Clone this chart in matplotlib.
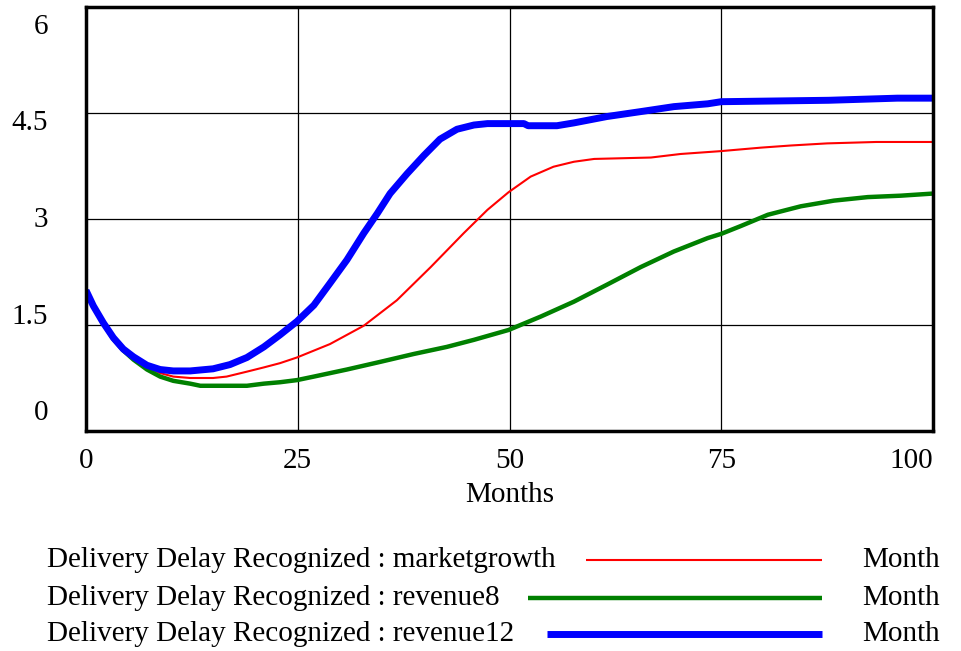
import matplotlib
matplotlib.use("Agg")
import matplotlib.pyplot as plt
from matplotlib.lines import Line2D

plt.rcParams['font.family'] = ['Liberation Serif', 'DejaVu Serif']

# data (months, delivery delay recognized)
t_mg = [0, 0.87, 2.05, 3.23, 4.4, 5.6, 7.2, 8.75, 10.3, 12.3, 15, 16.6, 19, 21, 22.9, 24.9,
        28.8, 32.8, 36.7, 40.7, 44.6, 47.4, 49.9, 52.5, 55.2, 57.6, 60, 66.7, 70.2, 74.9,
        79.7, 83.2, 87.5, 93.3, 100]
v_mg = [1.99, 1.76, 1.52, 1.31, 1.15, 1.03, 0.91, 0.82, 0.77, 0.75, 0.75, 0.77, 0.84, 0.90, 0.96, 1.04,
        1.23, 1.49, 1.85, 2.32, 2.80, 3.13, 3.38, 3.60, 3.74, 3.81, 3.85, 3.87, 3.92, 3.96,
        4.01, 4.04, 4.07, 4.09, 4.09]

t_r8 = [0, 0.87, 2.05, 3.23, 4.4, 5.6, 7.2, 8.75, 10.3, 12.3, 13.5, 19, 21, 22.9, 24.9, 26.9,
        30.8, 34.8, 38.7, 42.6, 45.8, 49.9, 53.7, 57.6, 61.5, 65.5, 69.4, 73.4, 75, 77.3,
        80.5, 84.4, 88.3, 92.3, 96.2, 100]
v_r8 = [1.99, 1.76, 1.52, 1.30, 1.14, 1.01, 0.87, 0.77, 0.71, 0.67, 0.64, 0.64, 0.67, 0.69, 0.72, 0.77,
        0.87, 0.98, 1.09, 1.19, 1.29, 1.43, 1.62, 1.83, 2.07, 2.32, 2.54, 2.73, 2.79, 2.90,
        3.06, 3.18, 3.26, 3.31, 3.33, 3.36]

t_r12 = [0, 0.87, 2.05, 3.23, 4.4, 5.6, 7.2, 8.75, 10.3, 12.3, 15, 17, 19, 21, 22.9, 24.9, 26.9,
         28.8, 30.8, 32.8, 34.4, 35.9, 37.9, 39.9, 41.8, 43.8, 45.8, 47.4, 51.7, 52.2, 55.6,
         57.6, 61.5, 65.5, 69.4, 73.4, 75, 87.7, 95.8, 100]
v_r12 = [1.99, 1.77, 1.53, 1.32, 1.16, 1.05, 0.93, 0.87, 0.85, 0.85, 0.88, 0.94, 1.04, 1.19, 1.36, 1.55, 1.78,
         2.09, 2.42, 2.80, 3.08, 3.36, 3.64, 3.90, 4.13, 4.27, 4.33, 4.35, 4.35, 4.32, 4.32,
         4.36, 4.45, 4.52, 4.59, 4.63, 4.66, 4.68, 4.71, 4.71]

x_ticks = [0, 25, 50, 75, 100]
y_ticks = [0, 1.5, 3, 4.5, 6]
y_labels = ['0', '1.5', '3', '4.5', '6']

series = [
    ("Delivery Delay Recognized : marketgrowth", t_mg, v_mg, 'red', 1.5),
    ("Delivery Delay Recognized : revenue8", t_r8, v_r8, 'green', 3.2),
    ("Delivery Delay Recognized : revenue12", t_r12, v_r12, 'blue', 5.0),
]

fs = 21

fig = plt.figure(figsize=(9.61, 6.51), dpi=100)
ax = fig.add_axes([86 / 961, 1 - 431 / 651, (933 - 86) / 961, (431 - 7) / 651])

for name, t, v, c, lw in series:
    ax.plot(t, v, color=c, lw=lw, solid_capstyle='butt', solid_joinstyle='round')

ax.set_xlim(0, 100)
ax.set_ylim(0, 6)
ax.set_xticks(x_ticks)
ax.set_yticks(y_ticks)
ax.grid(True, color='black', lw=0.9)
ax.tick_params(length=0, labelsize=fs, pad=12)
ax.set_yticklabels([])
ax.set_xticklabels([str(x) for x in x_ticks])
ax.get_xticklabels()[-1].set_horizontalalignment('right')
for s in ax.spines.values():
    s.set_linewidth(2.5)
ax.set_xlabel("Months", fontsize=fs, labelpad=6)

# vensim spreads the y labels evenly, a bit inside the frame
n = len(y_labels)
for i, lab in enumerate(y_labels):
    frac = 0.042 + (0.953 - 0.042) * i / (n - 1)
    ax.text(-0.045, frac, lab, transform=ax.transAxes, ha='right', va='center', fontsize=fs)

# legend rows under the chart
rows_y = [560, 598, 634]
line_start = [586, 528, 547]
for (name, t, v, c, lw), yy, xs in zip(series, rows_y, line_start):
    fy = 1 - yy / 651
    fig.text(47 / 961, fy, name, ha='left', va='center', fontsize=fs)
    fig.add_artist(Line2D([xs / 961, 822 / 961], [fy, fy], color=c, lw=lw,
                          transform=fig.transFigure, solid_capstyle='butt'))
    fig.text(940 / 961, fy, "Month", ha='right', va='center', fontsize=fs)

fig.savefig("out.png", dpi=100)
